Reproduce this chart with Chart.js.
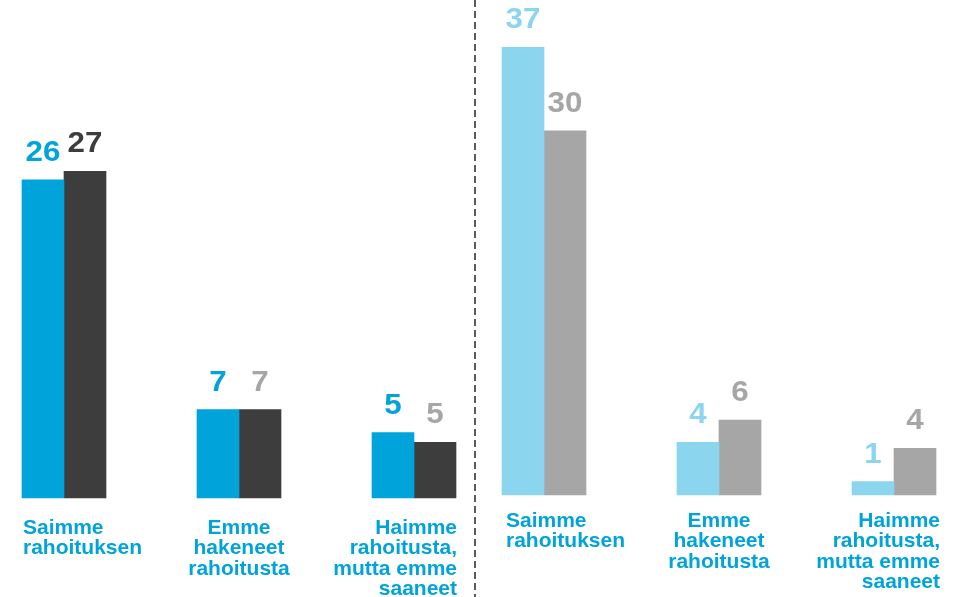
<!DOCTYPE html>
<html>
<head>
<meta charset="utf-8">
<script src="https://cdn.jsdelivr.net/npm/chart.js@4"></script>
<style>
  html, body { margin: 0; padding: 0; background: #fff; }
  body { width: 963px; height: 597px; position: relative; overflow: hidden; }
  .panel { position: absolute; top: 0; height: 597px; }
  #leftBox { left: 0; width: 477px; }
  #rightBox { left: 477px; width: 486px; }
</style>
</head>
<body>
<div class="panel" id="leftBox"><canvas id="left"></canvas></div>
<div class="panel" id="rightBox"><canvas id="right"></canvas></div>
<script>
const categories = [
  ['Saimme', 'rahoituksen'],
  ['Emme', 'hakeneet', 'rahoitusta'],
  ['Haimme', 'rahoitusta,', 'mutta emme', 'saaneet']
];
const leftFirst = [26.3, 7.3, 5.4];
const leftSecond = [27.0, 7.3, 4.6];
const rightFirst = [37.0, 4.35, 1.1];
const rightSecond = [30.1, 6.2, 3.85];

const BLUE = '#00a3da';
const DARK = '#3d3d3d';
const LIGHT = '#8cd5ee';
const GREY = '#a6a6a6';
const FONT = '"Liberation Sans", Arial, sans-serif';

// value labels above each bar + category labels under each group
const labelsPlugin = {
  id: 'labels',
  afterDatasetsDraw(chart, args, opts) {
    const ctx = chart.ctx;
    ctx.save();
    ctx.font = 'bold 29px ' + FONT;
    ctx.textAlign = 'center';
    ctx.textBaseline = 'alphabetic';
    chart.data.datasets.forEach((ds, di) => {
      chart.getDatasetMeta(di).data.forEach((bar, i) => {
        ctx.fillStyle = ds.labelColors[i];
        // stretch digits a little sideways like the original
        ctx.save();
        ctx.translate(bar.x, bar.y - 19);
        ctx.scale(1.08, 1);
        ctx.fillText(Math.round(ds.data[i]), 0, 0);
        ctx.restore();
      });
    });

    const x = chart.scales.x;
    const base = chart.scales.y.getPixelForValue(0);
    ctx.font = 'bold 21px ' + FONT;
    ctx.fillStyle = BLUE;
    const aligns = ['left', 'center', 'right'];
    chart.data.labels.forEach((lines, i) => {
      const c = x.getPixelForValue(i);
      let tx = c;
      if (aligns[i] === 'left') tx = c - 42 + opts.pad;
      if (aligns[i] === 'right') tx = c + 42 + opts.pad;
      ctx.textAlign = aligns[i];
      lines.forEach((line, k) => {
        ctx.fillText(line, tx, base + opts.textTop + k * 20.4);
      });
    });
    ctx.restore();
  },
  afterDraw(chart, args, opts) {
    if (!opts.divider) return;
    const ctx = chart.ctx;
    ctx.save();
    ctx.strokeStyle = '#5a5a5a';
    ctx.lineWidth = 2;
    ctx.setLineDash([7, 4]);
    ctx.beginPath();
    ctx.moveTo(475, 0);
    ctx.lineTo(475, chart.height);
    ctx.stroke();
    ctx.restore();
  }
};

function makeChart(id, first, second, colors, padding, pad, textTop, divider) {
  return new Chart(document.getElementById(id), {
    type: 'bar',
    data: {
      labels: categories,
      datasets: [
        {
          data: first,
          backgroundColor: colors[0],
          labelColors: colors[2],
          barThickness: 42,
          clip: false
        },
        {
          data: second,
          backgroundColor: colors[1],
          labelColors: colors[3],
          barThickness: 42,
          clip: false
        }
      ]
    },
    options: {
      responsive: true,
      maintainAspectRatio: false,
      animation: false,
      layout: { padding: padding },
      plugins: {
        legend: { display: false },
        tooltip: { enabled: false },
        labels: { pad: pad, textTop: textTop, divider: divider }
      },
      scales: {
        x: { display: false, offset: false, grid: { display: false } },
        y: { display: false, min: 0, max: 40 }
      }
    },
    plugins: [labelsPlugin]
  });
}

makeChart('left', leftFirst, leftSecond,
  [BLUE, DARK, [BLUE, BLUE, BLUE], [DARK, GREY, GREY]],
  { left: 64, right: 63, top: 14, bottom: 99 }, 1, 36, true);

makeChart('right', rightFirst, rightSecond,
  [LIGHT, GREY, [LIGHT, LIGHT, LIGHT], [GREY, GREY, GREY]],
  { left: 67, right: 69, top: 11, bottom: 102 }, 4, 32, false);
</script>
</body>
</html>
